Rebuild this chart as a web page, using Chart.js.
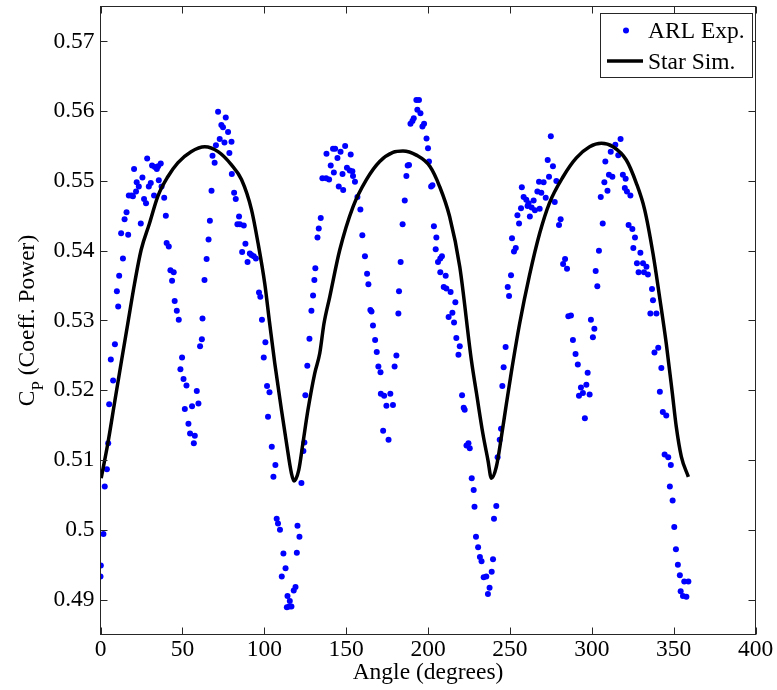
<!DOCTYPE html>
<html><head><meta charset="utf-8">
<script src="https://cdn.jsdelivr.net/npm/chart.js@4.4.0/dist/chart.umd.min.js"></script>
<style>html,body{margin:0;padding:0;background:#fff;}#wrap{width:777px;height:690px;}</style>
</head><body><div id="wrap"><canvas id="c" width="777" height="690"></canvas></div>
<script>
const arlAngle = [0.0,0.2,1.8,2.6,3.9,4.7,5.3,7.7,6.3,8.8,10.8,10.0,11.4,13.7,12.6,16.9,14.7,15.9,24.6,17.3,19.0,19.8,20.5,22.1,21.7,23.4,25.6,26.6,27.8,28.5,29.5,30.7,31.5,33.2,34.4,35.2,36.8,35.6,32.7,37.3,38.9,39.9,40.4,41.7,42.7,44.7,43.7,45.3,46.6,47.8,49.8,48.8,50.7,52.5,58.8,59.8,55.9,51.5,53.7,54.7,57.6,57.0,60.8,61.9,62.3,63.5,64.8,66.0,66.8,67.8,68.4,69.7,70.5,72.8,71.8,73.8,74.8,75.7,76.5,77.9,80.0,78.7,80.2,81.6,82.6,84.6,83.6,85.1,87.5,88.5,86.5,89.8,91.2,92.2,93.6,94.9,96.8,97.6,98.6,100.7,99.7,101.7,103.2,102.3,104.6,106.8,105.6,107.6,108.4,109.6,111.7,113.0,110.7,114.2,115.6,113.8,116.6,115.2,118.0,119.1,120.3,121.5,119.9,122.7,123.9,124.5,125.1,126.3,127.6,128.8,129.8,130.6,131.2,132.5,133.3,134.5,135.5,138.0,142.0,143.3,146.6,149.4,152.8,144.7,140.6,142.5,137.8,139.6,147.8,150.5,152.2,153.8,154.2,155.4,145.5,148.2,156.9,158.7,159.9,161.5,162.8,163.6,164.8,165.5,166.4,167.7,168.7,169.7,171.0,171.2,173.2,177.0,174.6,178.6,172.6,175.9,179.6,180.7,181.9,182.3,183.3,184.5,185.8,186.8,187.6,188.4,189.3,190.5,191.3,192.9,194.5,193.5,195.4,196.6,197.6,199.1,200.0,200.6,201.9,202.7,203.6,205.1,204.7,206.1,207.5,208.5,207.5,210.8,209.6,211.2,213.8,216.7,214.9,212.6,215.9,217.3,219.4,218.6,220.8,221.8,222.4,223.5,224.7,225.5,226.7,227.9,228.4,229.3,230.6,231.7,232.7,234.0,235.6,237.6,236.6,238.9,239.7,241.7,240.3,242.5,243.8,244.6,245.4,246.2,247.4,249.5,248.7,250.7,252.5,253.6,251.3,255.6,254.6,256.8,257.3,258.4,260.0,261.4,263.3,260.8,262.2,264.5,265.3,268.2,266.8,269.2,267.8,270.6,271.9,273.1,273.9,275.0,276.3,278.4,277.4,281.0,280.0,283.7,282.5,284.9,285.7,287.3,288.5,290.1,291.5,297.5,296.7,293.4,294.6,292.2,298.7,295.8,299.5,301.6,300.7,303.4,302.4,304.4,306.7,305.5,307.7,309.6,310.5,312.6,308.3,311.6,314.4,317.6,316.2,319.0,320.7,320.2,321.5,323.6,322.5,324.8,326.4,325.4,329.7,327.6,331.3,333.4,328.6,331.9,334.3,336.8,337.4,335.8,339.5,340.6,338.3,342.5,341.6,343.4,345.5,344.5,346.7,348.3,347.7,349.4,350.4,351.4,352.6,353.8,356.5,359.0,354.3,355.7,357.8];
const arlCp = [0.4933,0.4949,0.4994,0.5062,0.5087,0.5124,0.5180,0.5214,0.5244,0.5266,0.5320,0.5342,0.5364,0.5389,0.5425,0.5423,0.5445,0.5455,0.5439,0.5479,0.5479,0.5478,0.5517,0.5498,0.5485,0.5492,0.5505,0.5474,0.5468,0.5532,0.5492,0.5497,0.5522,0.5520,0.5517,0.5521,0.5525,0.5501,0.5479,0.5492,0.5476,0.5450,0.5411,0.5406,0.5372,0.5369,0.5357,0.5328,0.5314,0.5301,0.5247,0.5230,0.5216,0.5207,0.5199,0.5181,0.5177,0.5173,0.5152,0.5138,0.5135,0.5124,0.5263,0.5273,0.5303,0.5358,0.5388,0.5416,0.5443,0.5486,0.5536,0.5526,0.5551,0.5560,0.5599,0.5580,0.5577,0.5555,0.5591,0.5570,0.5556,0.5540,0.5510,0.5483,0.5474,0.5449,0.5438,0.5438,0.5436,0.5410,0.5398,0.5384,0.5396,0.5394,0.5392,0.5389,0.5340,0.5334,0.5301,0.5269,0.5247,0.5206,0.5197,0.5162,0.5119,0.5093,0.5076,0.5016,0.5009,0.5000,0.4966,0.4945,0.4933,0.4905,0.4898,0.4889,0.4890,0.4890,0.4913,0.4918,0.5006,0.4990,0.4967,0.5067,0.5113,0.5125,0.5193,0.5235,0.5274,0.5314,0.5336,0.5358,0.5375,0.5419,0.5432,0.5447,0.5504,0.5539,0.5546,0.5546,0.5542,0.5550,0.5538,0.5533,0.5522,0.5512,0.5504,0.5502,0.5510,0.5519,0.5515,0.5514,0.5507,0.5499,0.5492,0.5487,0.5477,0.5459,0.5422,0.5392,0.5367,0.5352,0.5315,0.5313,0.5293,0.5272,0.5255,0.5234,0.5226,0.5195,0.5192,0.5195,0.5178,0.5179,0.5142,0.5129,0.5234,0.5250,0.5310,0.5342,0.5384,0.5438,0.5472,0.5507,0.5522,0.5523,0.5582,0.5586,0.5590,0.5616,0.5616,0.5602,0.5597,0.5578,0.5582,0.5561,0.5547,0.5528,0.5492,0.5494,0.5435,0.5419,0.5402,0.5384,0.5389,0.5392,0.5369,0.5364,0.5348,0.5346,0.5341,0.5326,0.5311,0.5305,0.5297,0.5275,0.5263,0.5251,0.5193,0.5175,0.5172,0.5121,0.5124,0.5117,0.5074,0.5057,0.5033,0.4990,0.4975,0.4961,0.4955,0.4932,0.4933,0.4917,0.4908,0.4940,0.4958,0.5034,0.5016,0.5104,0.5129,0.5145,0.5206,0.5233,0.5262,0.5335,0.5348,0.5365,0.5399,0.5404,0.5418,0.5439,0.5451,0.5461,0.5491,0.5477,0.5473,0.5468,0.5462,0.5464,0.5449,0.5472,0.5458,0.5460,0.5485,0.5483,0.5499,0.5498,0.5476,0.5530,0.5506,0.5564,0.5521,0.5500,0.5470,0.5445,0.5437,0.5388,0.5381,0.5374,0.5306,0.5307,0.5272,0.5252,0.5237,0.5225,0.5208,0.5204,0.5196,0.5192,0.5194,0.5160,0.5301,0.5288,0.5276,0.5349,0.5371,0.5400,0.5439,0.5477,0.5498,0.5486,0.5509,0.5506,0.5528,0.5542,0.5552,0.5560,0.5537,0.5509,0.5503,0.5490,0.5485,0.5479,0.5437,0.5431,0.5419,0.5404,0.5397,0.5382,0.5382,0.5377,0.5369,0.5369,0.5366,0.5345,0.5329,0.5310,0.5310,0.5261,0.5254,0.5232,0.5198,0.5169,0.5164,0.5108,0.5104,0.5093,0.5062,0.5042,0.5004,0.4972,0.4950,0.4935,0.4926,0.4926,0.4912,0.4905,0.4904];
const simAngle = [0.4,4.5,8.5,12.6,16.7,20.8,24.8,29.9,35.0,41.1,47.2,55.3,63.7,71.8,80.0,86.1,92.2,96.2,100.3,103.3,106.4,110.5,113.6,116.6,118.2,121.1,123.6,126.7,130.8,133.9,136.5,140.0,146.1,154.2,162.4,170.5,178.6,184.7,192.9,201.1,207.1,213.2,219.4,226.5,229.6,233.5,236.6,238.7,241.7,244.8,247.9,250.9,256.0,262.0,268.2,274.1,282.5,290.6,298.7,305.9,313.0,321.1,327.2,332.3,337.4,341.4,345.5,349.2,351.6,354.7,359.0];
const simCp = [0.5074,0.5124,0.5181,0.5239,0.5296,0.5353,0.5401,0.5439,0.5478,0.5506,0.5526,0.5542,0.5549,0.5542,0.5523,0.5502,0.5459,0.5411,0.5353,0.5296,0.5239,0.5172,0.5124,0.5081,0.5070,0.5086,0.5124,0.5172,0.5224,0.5253,0.5296,0.5334,0.5401,0.5463,0.5502,0.5528,0.5541,0.5543,0.5537,0.5521,0.5492,0.5449,0.5377,0.5243,0.5196,0.5138,0.5100,0.5074,0.5090,0.5133,0.5181,0.5226,0.5296,0.5365,0.5425,0.5468,0.5506,0.5533,0.5549,0.5554,0.5549,0.5530,0.5497,0.5459,0.5396,0.5334,0.5267,0.5196,0.5148,0.5105,0.5076];
const xTicks = [0,50,100,150,200,250,300,350,400];
const yTicks = [0.49,0.5,0.51,0.52,0.53,0.54,0.55,0.56,0.57];
const xRange = [0,400];
const yRange = [0.485,0.575];
const seriesNames = ['ARL Exp.','Star Sim.'];
const xTitle = 'Angle (degrees)';
const yTitleMain = 'C', yTitleSub = 'P', yTitleRest = ' (Coeff. Power)';

const FONT = '"Liberation Serif","Times New Roman",serif';
const FS = 23.5;

const framePlugin = {
  id: 'frame',
  afterDraw(chart) {
    const {ctx, chartArea: a, scales: {x, y}} = chart;
    ctx.save();
    ctx.strokeStyle = '#262626';
    ctx.lineWidth = 1;
    ctx.strokeRect(a.left, a.top, a.right - a.left, a.bottom - a.top);
    const L = 7;
    ctx.beginPath();
    xTicks.forEach(v => {
      const px = Math.round(x.getPixelForValue(v)) + 0.5;
      ctx.moveTo(px, a.bottom); ctx.lineTo(px, a.bottom - L);
      ctx.moveTo(px, a.top); ctx.lineTo(px, a.top + L);
    });
    yTicks.forEach(v => {
      const py = Math.round(y.getPixelForValue(v)) + 0.5;
      ctx.moveTo(a.left, py); ctx.lineTo(a.left + L, py);
      ctx.moveTo(a.right, py); ctx.lineTo(a.right - L, py);
    });
    ctx.stroke();

    // y axis title with subscript
    ctx.fillStyle = '#000';
    ctx.textBaseline = 'alphabetic';
    ctx.textAlign = 'left';
    const fMain = FS + 'px ' + FONT, fSub = '17px ' + FONT;
    ctx.font = fMain; const wC = ctx.measureText(yTitleMain).width;
    const wR = ctx.measureText(yTitleRest).width;
    ctx.font = fSub; const wP = ctx.measureText(yTitleSub).width;
    const total = wC + wP + wR;
    const cy = y.getPixelForValue((yRange[0] + yRange[1]) / 2);
    ctx.save();
    ctx.translate(33.5, cy + total / 2);
    ctx.rotate(-Math.PI / 2);
    ctx.font = fMain; ctx.fillText(yTitleMain, 0, 0);
    ctx.font = fSub; ctx.fillText(yTitleSub, wC, 9.5);
    ctx.font = fMain; ctx.fillText(yTitleRest, wC + wP, 0);
    ctx.restore();

    // legend
    const lx = 600.5, ly = 13.5, lw = 152, lh = 64;
    ctx.fillStyle = '#fff';
    ctx.fillRect(lx, ly, lw, lh);
    ctx.strokeStyle = '#262626'; ctx.lineWidth = 1;
    ctx.strokeRect(lx, ly, lw, lh);
    ctx.fillStyle = '#0000ff';
    ctx.beginPath(); ctx.arc(626, 30.5, 3, 0, Math.PI * 2); ctx.fill();
    ctx.strokeStyle = '#000'; ctx.lineWidth = 3.5;
    ctx.beginPath(); ctx.moveTo(607, 61); ctx.lineTo(643, 61); ctx.stroke();
    ctx.fillStyle = '#000'; ctx.font = fMain; ctx.textBaseline = 'alphabetic';
    ctx.fillText(chart.data.datasets[1].label, 648, 37.5);
    ctx.fillText(chart.data.datasets[0].label, 648, 68.5);
    ctx.restore();
  }
};

new Chart(document.getElementById('c'), {
  type: 'scatter',
  data: {
    datasets: [
      {
        label: seriesNames[1],
        data: simAngle.map((a, i) => ({x: a, y: simCp[i]})),
        showLine: true,
        borderColor: '#000',
        borderWidth: 3.5,
        pointRadius: 0,
        cubicInterpolationMode: 'monotone',
        order: 1
      },
      {
        label: seriesNames[0],
        data: arlAngle.map((a, i) => ({x: a, y: arlCp[i]})),
        showLine: false,
        backgroundColor: '#0000ff',
        borderWidth: 0,
        pointRadius: 3,
        order: 2
      }
    ]
  },
  options: {
    responsive: false,
    animation: false,
    devicePixelRatio: 1,
    layout: {padding: {left: 0, right: 21.5, top: 6.5, bottom: 0}},
    plugins: {legend: {display: false}, tooltip: {enabled: false}},
    scales: {
      x: {
        type: 'linear', min: xRange[0], max: xRange[1],
        grid: {display: false, drawTicks: false},
        border: {display: false},
        afterBuildTicks: s => { s.ticks = xTicks.map(v => ({value: v})); },
        afterFit: s => { s.height = 55.5; s.paddingLeft = 0; s.paddingRight = 0; },
        ticks: {color: '#000', padding: 1.5, font: {family: FONT, size: FS, lineHeight: 1.2}, maxRotation: 0, callback: v => String(v)},
        title: {display: true, text: xTitle, color: '#000', font: {family: FONT, size: FS, lineHeight: 1.2}, padding: {top: 0, bottom: 3}}
      },
      y: {
        type: 'linear', min: yRange[0], max: yRange[1],
        grid: {display: false, drawTicks: false},
        border: {display: false},
        afterBuildTicks: s => { s.ticks = yTicks.map(v => ({value: v})); },
        afterFit: s => { s.width = 100.5; s.paddingTop = 0; s.paddingBottom = 0; },
        ticks: {color: '#000', padding: 6, font: {family: FONT, size: FS, lineHeight: 1.2}, callback: v => String(+(+v).toFixed(3))}
      }
    }
  },
  plugins: [framePlugin]
});
</script>
</body></html>
